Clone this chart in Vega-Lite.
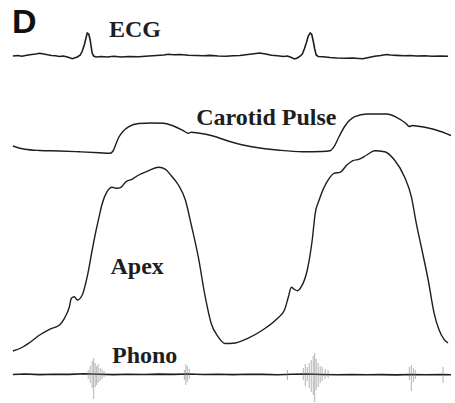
{
  "$schema": "https://vega.github.io/schema/vega-lite/v6.json",
  "width": 455,
  "height": 403,
  "autosize": {"type": "fit", "contains": "padding"},
  "padding": 0,
  "background": "white",
  "config": {"view": {"stroke": null}},
  "datasets": {
    "traces": [
      {"signal": "ECG", "t": 13, "v": 56}, {"signal": "ECG", "t": 18, "v": 55.5}, {"signal": "ECG", "t": 22, "v": 56.3}, {"signal": "ECG", "t": 27, "v": 55.2}, {"signal": "ECG", "t": 32, "v": 54.5}, {"signal": "ECG", "t": 36, "v": 54}, {"signal": "ECG", "t": 40, "v": 53.2}, {"signal": "ECG", "t": 44, "v": 54}, {"signal": "ECG", "t": 48, "v": 54.8}, {"signal": "ECG", "t": 52, "v": 55.5}, {"signal": "ECG", "t": 56, "v": 55.8}, {"signal": "ECG", "t": 60, "v": 56.5}, {"signal": "ECG", "t": 64, "v": 56}, {"signal": "ECG", "t": 68, "v": 57}, {"signal": "ECG", "t": 71, "v": 58}, {"signal": "ECG", "t": 73, "v": 58.7}, {"signal": "ECG", "t": 75, "v": 58}, {"signal": "ECG", "t": 78, "v": 57}, {"signal": "ECG", "t": 81, "v": 55}, {"signal": "ECG", "t": 83, "v": 51}, {"signal": "ECG", "t": 85, "v": 45}, {"signal": "ECG", "t": 87, "v": 37}, {"signal": "ECG", "t": 88, "v": 33}, {"signal": "ECG", "t": 89.5, "v": 34}, {"signal": "ECG", "t": 91, "v": 40}, {"signal": "ECG", "t": 92, "v": 47}, {"signal": "ECG", "t": 93, "v": 53}, {"signal": "ECG", "t": 94.5, "v": 56}, {"signal": "ECG", "t": 97, "v": 57}, {"signal": "ECG", "t": 102, "v": 56.5}, {"signal": "ECG", "t": 108, "v": 57}, {"signal": "ECG", "t": 115, "v": 56.3}, {"signal": "ECG", "t": 122, "v": 57}, {"signal": "ECG", "t": 130, "v": 56.5}, {"signal": "ECG", "t": 140, "v": 56.8}, {"signal": "ECG", "t": 150, "v": 56}, {"signal": "ECG", "t": 158, "v": 55.5}, {"signal": "ECG", "t": 165, "v": 55}, {"signal": "ECG", "t": 170, "v": 54.3}, {"signal": "ECG", "t": 175, "v": 54.8}, {"signal": "ECG", "t": 182, "v": 54.5}, {"signal": "ECG", "t": 190, "v": 55.2}, {"signal": "ECG", "t": 198, "v": 55.5}, {"signal": "ECG", "t": 205, "v": 55.8}, {"signal": "ECG", "t": 212, "v": 55.4}, {"signal": "ECG", "t": 220, "v": 56}, {"signal": "ECG", "t": 228, "v": 56.2}, {"signal": "ECG", "t": 235, "v": 55.8}, {"signal": "ECG", "t": 242, "v": 55.5}, {"signal": "ECG", "t": 250, "v": 54.5}, {"signal": "ECG", "t": 256, "v": 53.8}, {"signal": "ECG", "t": 262, "v": 53}, {"signal": "ECG", "t": 268, "v": 54}, {"signal": "ECG", "t": 274, "v": 55.3}, {"signal": "ECG", "t": 280, "v": 55.8}, {"signal": "ECG", "t": 286, "v": 56.5}, {"signal": "ECG", "t": 290, "v": 56}, {"signal": "ECG", "t": 294, "v": 57.5}, {"signal": "ECG", "t": 297, "v": 59}, {"signal": "ECG", "t": 300, "v": 58}, {"signal": "ECG", "t": 303, "v": 56}, {"signal": "ECG", "t": 305, "v": 54}, {"signal": "ECG", "t": 307, "v": 49}, {"signal": "ECG", "t": 309, "v": 43}, {"signal": "ECG", "t": 311, "v": 36}, {"signal": "ECG", "t": 313, "v": 33}, {"signal": "ECG", "t": 314.5, "v": 34.5}, {"signal": "ECG", "t": 316, "v": 41}, {"signal": "ECG", "t": 317.5, "v": 49}, {"signal": "ECG", "t": 319, "v": 55}, {"signal": "ECG", "t": 321, "v": 56.5}, {"signal": "ECG", "t": 326, "v": 56.8}, {"signal": "ECG", "t": 333, "v": 57.5}, {"signal": "ECG", "t": 340, "v": 58}, {"signal": "ECG", "t": 348, "v": 58.2}, {"signal": "ECG", "t": 356, "v": 58}, {"signal": "ECG", "t": 362, "v": 58.5}, {"signal": "ECG", "t": 366, "v": 58.8}, {"signal": "ECG", "t": 372, "v": 57.5}, {"signal": "ECG", "t": 378, "v": 56.3}, {"signal": "ECG", "t": 384, "v": 55.5}, {"signal": "ECG", "t": 390, "v": 54.5}, {"signal": "ECG", "t": 394, "v": 55}, {"signal": "ECG", "t": 400, "v": 55.4}, {"signal": "ECG", "t": 408, "v": 55.8}, {"signal": "ECG", "t": 414, "v": 55.5}, {"signal": "ECG", "t": 420, "v": 56}, {"signal": "ECG", "t": 428, "v": 55.7}, {"signal": "ECG", "t": 436, "v": 56.2}, {"signal": "ECG", "t": 444, "v": 56}, {"signal": "ECG", "t": 452, "v": 56.3},

      {"signal": "Carotid", "t": 13, "v": 146}, {"signal": "Carotid", "t": 25, "v": 149.3}, {"signal": "Carotid", "t": 40, "v": 150.5}, {"signal": "Carotid", "t": 60, "v": 151}, {"signal": "Carotid", "t": 80, "v": 151.8}, {"signal": "Carotid", "t": 100, "v": 152.7}, {"signal": "Carotid", "t": 111, "v": 153.3}, {"signal": "Carotid", "t": 114, "v": 151}, {"signal": "Carotid", "t": 117, "v": 144}, {"signal": "Carotid", "t": 120, "v": 137}, {"signal": "Carotid", "t": 124, "v": 131.5}, {"signal": "Carotid", "t": 130, "v": 126.7}, {"signal": "Carotid", "t": 140, "v": 123.5}, {"signal": "Carotid", "t": 152, "v": 123}, {"signal": "Carotid", "t": 165, "v": 123.3}, {"signal": "Carotid", "t": 175, "v": 126}, {"signal": "Carotid", "t": 185, "v": 130.7}, {"signal": "Carotid", "t": 190, "v": 133.3}, {"signal": "Carotid", "t": 193, "v": 132.2}, {"signal": "Carotid", "t": 200, "v": 133}, {"signal": "Carotid", "t": 215, "v": 136}, {"signal": "Carotid", "t": 230, "v": 141}, {"signal": "Carotid", "t": 245, "v": 145}, {"signal": "Carotid", "t": 262, "v": 148}, {"signal": "Carotid", "t": 280, "v": 150}, {"signal": "Carotid", "t": 305, "v": 151.7}, {"signal": "Carotid", "t": 325, "v": 151.5}, {"signal": "Carotid", "t": 333, "v": 150.7}, {"signal": "Carotid", "t": 337, "v": 146.7}, {"signal": "Carotid", "t": 342, "v": 136.7}, {"signal": "Carotid", "t": 348, "v": 126}, {"signal": "Carotid", "t": 358, "v": 116.7}, {"signal": "Carotid", "t": 370, "v": 114}, {"signal": "Carotid", "t": 390, "v": 114}, {"signal": "Carotid", "t": 400, "v": 117.3}, {"signal": "Carotid", "t": 409, "v": 123}, {"signal": "Carotid", "t": 413, "v": 126.5}, {"signal": "Carotid", "t": 416, "v": 125.5}, {"signal": "Carotid", "t": 422, "v": 126.3}, {"signal": "Carotid", "t": 440, "v": 130}, {"signal": "Carotid", "t": 455, "v": 135.5},

      {"signal": "Apex", "t": 13, "v": 351}, {"signal": "Apex", "t": 23, "v": 347}, {"signal": "Apex", "t": 30, "v": 342.5}, {"signal": "Apex", "t": 40, "v": 335}, {"signal": "Apex", "t": 50, "v": 329.3}, {"signal": "Apex", "t": 60, "v": 325}, {"signal": "Apex", "t": 65, "v": 318.3}, {"signal": "Apex", "t": 70, "v": 306.7}, {"signal": "Apex", "t": 72, "v": 298.3}, {"signal": "Apex", "t": 75, "v": 296.7}, {"signal": "Apex", "t": 78, "v": 300}, {"signal": "Apex", "t": 83, "v": 295}, {"signal": "Apex", "t": 88, "v": 276.7}, {"signal": "Apex", "t": 93, "v": 250}, {"signal": "Apex", "t": 97, "v": 230}, {"signal": "Apex", "t": 100, "v": 216.7}, {"signal": "Apex", "t": 103, "v": 204}, {"signal": "Apex", "t": 108, "v": 191.7}, {"signal": "Apex", "t": 113, "v": 187.3}, {"signal": "Apex", "t": 118, "v": 188.3}, {"signal": "Apex", "t": 122, "v": 187.3}, {"signal": "Apex", "t": 127, "v": 181.7}, {"signal": "Apex", "t": 133, "v": 179.3}, {"signal": "Apex", "t": 140, "v": 175}, {"signal": "Apex", "t": 150, "v": 170.7}, {"signal": "Apex", "t": 160, "v": 167.3}, {"signal": "Apex", "t": 167, "v": 169.3}, {"signal": "Apex", "t": 173, "v": 176}, {"signal": "Apex", "t": 180, "v": 185}, {"signal": "Apex", "t": 187, "v": 200}, {"signal": "Apex", "t": 193, "v": 225}, {"signal": "Apex", "t": 200, "v": 256.7}, {"signal": "Apex", "t": 207, "v": 296.7}, {"signal": "Apex", "t": 213, "v": 323.3}, {"signal": "Apex", "t": 220, "v": 336.7}, {"signal": "Apex", "t": 227, "v": 343.5}, {"signal": "Apex", "t": 235, "v": 343.3}, {"signal": "Apex", "t": 250, "v": 338.3}, {"signal": "Apex", "t": 265, "v": 330}, {"signal": "Apex", "t": 280, "v": 318.3}, {"signal": "Apex", "t": 287, "v": 310}, {"signal": "Apex", "t": 291, "v": 296.7}, {"signal": "Apex", "t": 294, "v": 287.3}, {"signal": "Apex", "t": 297, "v": 289.3}, {"signal": "Apex", "t": 300, "v": 290.7}, {"signal": "Apex", "t": 304, "v": 286.7}, {"signal": "Apex", "t": 310, "v": 270}, {"signal": "Apex", "t": 315, "v": 240}, {"signal": "Apex", "t": 318, "v": 213.3}, {"signal": "Apex", "t": 322, "v": 200}, {"signal": "Apex", "t": 330, "v": 181.7}, {"signal": "Apex", "t": 337, "v": 173.3}, {"signal": "Apex", "t": 343, "v": 172.3}, {"signal": "Apex", "t": 350, "v": 165}, {"signal": "Apex", "t": 356, "v": 160.7}, {"signal": "Apex", "t": 362, "v": 159.3}, {"signal": "Apex", "t": 370, "v": 155}, {"signal": "Apex", "t": 378, "v": 150.7}, {"signal": "Apex", "t": 388, "v": 151.7}, {"signal": "Apex", "t": 398, "v": 160}, {"signal": "Apex", "t": 408, "v": 176.7}, {"signal": "Apex", "t": 415, "v": 196.7}, {"signal": "Apex", "t": 420, "v": 223.3}, {"signal": "Apex", "t": 425, "v": 246.7}, {"signal": "Apex", "t": 432, "v": 280}, {"signal": "Apex", "t": 438, "v": 313.3}, {"signal": "Apex", "t": 443, "v": 330}, {"signal": "Apex", "t": 448, "v": 339.3}, {"signal": "Apex", "t": 452, "v": 343},

      {"signal": "Phono", "t": 13, "v": 374.5}, {"signal": "Phono", "t": 25, "v": 374}, {"signal": "Phono", "t": 40, "v": 374.6}, {"signal": "Phono", "t": 55, "v": 374.2}, {"signal": "Phono", "t": 70, "v": 374.4}, {"signal": "Phono", "t": 85, "v": 373.8}, {"signal": "Phono", "t": 100, "v": 374.3}, {"signal": "Phono", "t": 115, "v": 374.6}, {"signal": "Phono", "t": 130, "v": 374.2}, {"signal": "Phono", "t": 145, "v": 374.5}, {"signal": "Phono", "t": 160, "v": 374.1}, {"signal": "Phono", "t": 175, "v": 374.4}, {"signal": "Phono", "t": 190, "v": 374}, {"signal": "Phono", "t": 205, "v": 374.5}, {"signal": "Phono", "t": 220, "v": 374.3}, {"signal": "Phono", "t": 235, "v": 374.6}, {"signal": "Phono", "t": 250, "v": 374.2}, {"signal": "Phono", "t": 265, "v": 374.4}, {"signal": "Phono", "t": 280, "v": 374.7}, {"signal": "Phono", "t": 295, "v": 374.3}, {"signal": "Phono", "t": 310, "v": 374}, {"signal": "Phono", "t": 325, "v": 374.5}, {"signal": "Phono", "t": 340, "v": 374.8}, {"signal": "Phono", "t": 355, "v": 374.5}, {"signal": "Phono", "t": 370, "v": 374.8}, {"signal": "Phono", "t": 385, "v": 374.6}, {"signal": "Phono", "t": 400, "v": 374.9}, {"signal": "Phono", "t": 415, "v": 374.5}, {"signal": "Phono", "t": 430, "v": 374.8}, {"signal": "Phono", "t": 445, "v": 374.6}, {"signal": "Phono", "t": 455, "v": 374.8}
    ],
    "bursts": [
      {"t": 89, "lo": 370, "hi": 379}, {"t": 91, "lo": 366, "hi": 383}, {"t": 93, "lo": 361, "hi": 388}, {"t": 94.5, "lo": 358, "hi": 399}, {"t": 96, "lo": 363, "hi": 387}, {"t": 97.5, "lo": 366, "hi": 385}, {"t": 99, "lo": 364, "hi": 383}, {"t": 101, "lo": 368, "hi": 381}, {"t": 103, "lo": 369, "hi": 379}, {"t": 105, "lo": 371, "hi": 377},
      {"t": 186, "lo": 370, "hi": 380}, {"t": 187.5, "lo": 364, "hi": 385}, {"t": 189, "lo": 366, "hi": 382}, {"t": 191, "lo": 369, "hi": 379},
      {"t": 290, "lo": 370, "hi": 380},
      {"t": 306, "lo": 368, "hi": 380}, {"t": 308, "lo": 364, "hi": 386}, {"t": 310, "lo": 367, "hi": 381}, {"t": 312, "lo": 363, "hi": 388}, {"t": 314, "lo": 360, "hi": 392}, {"t": 316, "lo": 356, "hi": 395}, {"t": 317.5, "lo": 353, "hi": 402}, {"t": 319, "lo": 359, "hi": 390}, {"t": 321, "lo": 363, "hi": 387}, {"t": 323, "lo": 366, "hi": 383}, {"t": 325, "lo": 367, "hi": 381}, {"t": 328, "lo": 369, "hi": 379}, {"t": 331, "lo": 370, "hi": 378},
      {"t": 413, "lo": 367, "hi": 380}, {"t": 415, "lo": 365, "hi": 391}, {"t": 417, "lo": 368, "hi": 382}, {"t": 419, "lo": 370, "hi": 379},
      {"t": 447, "lo": 367, "hi": 383}
    ],
    "labels": [
      {"t": 110, "v": 37, "text": "ECG"},
      {"t": 198, "v": 125, "text": "Carotid Pulse"},
      {"t": 111.5, "v": 274, "text": "Apex"},
      {"t": 113, "v": 362.5, "text": "Phono"}
    ]
  },
  "encoding": {
    "x": {"field": "t", "type": "quantitative", "scale": {"domain": [0, 455], "nice": false, "zero": false}, "axis": null},
    "y": {"field": "v", "type": "quantitative", "scale": {"domain": [0, 403], "nice": false, "zero": false, "reverse": true}, "axis": null}
  },
  "layer": [
    {
      "data": {"name": "traces"},
      "transform": [{"filter": "datum.signal === 'ECG' || datum.signal === 'Phono'"}],
      "mark": {"type": "line", "interpolate": "linear", "color": "#1e1e1e", "strokeWidth": 1.6},
      "encoding": {"detail": {"field": "signal"}, "strokeWidth": {"condition": {"test": "datum.signal === 'Phono'", "value": 2.8}, "value": 1.6}}
    },
    {
      "data": {"name": "traces"},
      "transform": [{"filter": "datum.signal === 'Carotid' || datum.signal === 'Apex'"}],
      "mark": {"type": "line", "interpolate": "monotone", "color": "#1e1e1e", "strokeWidth": 1.4},
      "encoding": {"detail": {"field": "signal"}}
    },
    {
      "data": {"name": "bursts"},
      "mark": {"type": "rule", "color": "#808080", "strokeWidth": 0.6},
      "encoding": {"y": {"field": "lo", "type": "quantitative"}, "y2": {"field": "hi"}}
    },
    {
      "data": {"name": "labels"},
      "mark": {"type": "text", "align": "left", "baseline": "alphabetic", "font": "Liberation Serif", "fontWeight": "bold", "fontSize": 24, "color": "#1e1e1e"},
      "encoding": {"text": {"field": "text"}}
    },
    {
      "data": {"values": [{"t": 12, "v": 33, "text": "D"}]},
      "mark": {"type": "text", "align": "left", "baseline": "alphabetic", "font": "Liberation Sans", "fontWeight": "bold", "fontSize": 34, "color": "#111111"},
      "encoding": {"text": {"field": "text"}}
    }
  ]
}
